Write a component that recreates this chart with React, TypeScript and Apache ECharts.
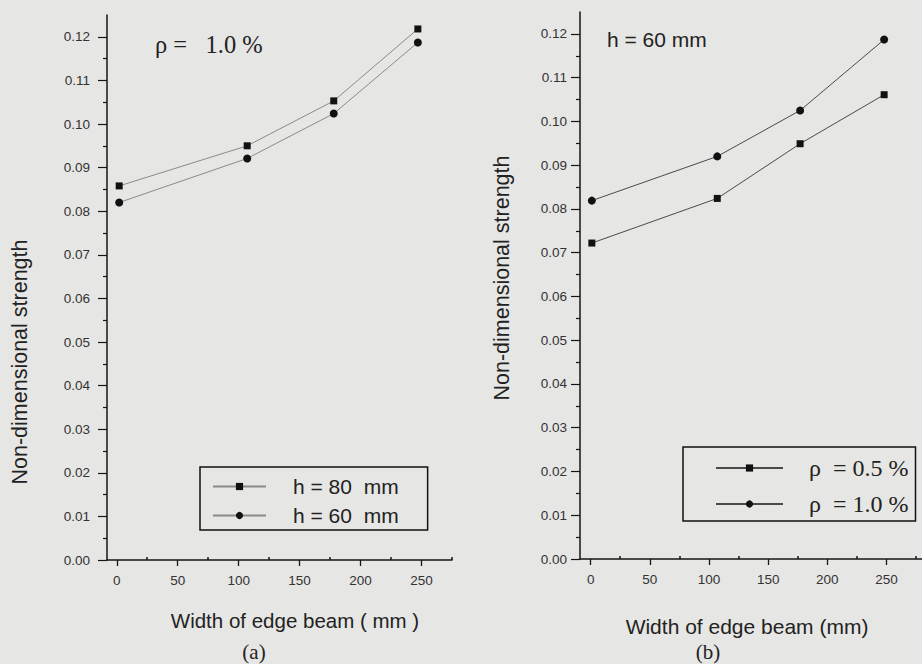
import React, { useEffect, useRef } from "react";
import * as echarts from "echarts";

// ---- data ----
const xLeft = [2, 107, 178, 247];
const h80 = [0.0858, 0.095, 0.1053, 0.1218];
const h60 = [0.082, 0.0921, 0.1024, 0.1187];

const xRight = [1, 107, 177, 248];
const rho05 = [0.0722, 0.0824, 0.0949, 0.1061];
const rho10 = [0.0819, 0.092, 0.1025, 0.1187];

const xTickValues = [0, 50, 100, 150, 200, 250];
const xMinorTickValues = [25, 75, 125, 175, 225, 275];
const yTickValues = [0, 0.01, 0.02, 0.03, 0.04, 0.05, 0.06, 0.07, 0.08, 0.09, 0.1, 0.11, 0.12];

const nameH80 = "h = 80  mm";
const nameH60 = "h = 60  mm";
const nameR05 = "ρ  = 0.5 %";
const nameR10 = "ρ  = 1.0 %";

const SANS = "Arial, 'Liberation Sans', sans-serif";
const SERIF = "'Times New Roman', 'Liberation Serif', serif";
const AXIS = "#161616";

function mainX(gridIndex: number, min: number, max: number) {
  return {
    type: "value",
    gridIndex,
    min,
    max,
    position: "bottom",
    axisLine: { show: true, onZero: false, lineStyle: { color: AXIS, width: 1.5 } },
    axisTick: { show: true, inside: false, length: 6, customValues: xTickValues, lineStyle: { color: AXIS, width: 1.3 } },
    axisLabel: { show: true, customValues: xTickValues, margin: 13, fontSize: 13.5, fontFamily: SANS, color: "#333" },
    splitLine: { show: false },
  };
}
function minorX(gridIndex: number, min: number, max: number) {
  return {
    type: "value",
    gridIndex,
    min,
    max,
    position: "bottom",
    axisLine: { show: false },
    axisTick: { show: true, inside: true, length: 3, customValues: xMinorTickValues, lineStyle: { color: AXIS, width: 1.5 } },
    axisLabel: { show: false },
    splitLine: { show: false },
  };
}
function mainY(gridIndex: number, margin: number) {
  return {
    type: "value",
    gridIndex,
    min: 0,
    max: 0.125,
    interval: 0.01,
    axisLine: { show: true, onZero: false, lineStyle: { color: AXIS, width: 1.5 } },
    axisTick: { show: true, inside: false, length: 9, customValues: yTickValues, lineStyle: { color: AXIS, width: 1.2 } },
    minorTick: { show: true, splitNumber: 2, length: 4, lineStyle: { color: AXIS, width: 1.2 } },
    axisLabel: {
      show: true,
      customValues: yTickValues,
      margin,
      fontSize: 13.5,
      fontFamily: SANS,
      color: "#333",
      formatter: (v: number) => v.toFixed(2),
    },
    splitLine: { show: false },
  };
}

function lineSeries(name: string, xs: number[], ys: number[], symbol: string, size: number, color: string, xAxisIndex: number, yAxisIndex: number) {
  return {
    name,
    type: "line",
    xAxisIndex,
    yAxisIndex,
    data: xs.map((x, i) => [x, ys[i]]),
    symbol,
    symbolSize: size,
    showSymbol: true,
    lineStyle: { color, width: 1 },
    itemStyle: { color: "#111" },
    z: 3,
  };
}

export default function App() {
  const ref = useRef<HTMLDivElement>(null);
  useEffect(() => {
    if (!ref.current) return;
    const chart = echarts.init(ref.current, undefined, { renderer: "svg" });
    chart.setOption({
      animation: false,
      backgroundColor: "#e6e6e4",
      grid: [
        { left: 107, top: 15, width: 345, height: 545 },
        { left: 580, top: 12, width: 345, height: 547 },
      ],
      xAxis: [mainX(0, -8, 275), minorX(0, -8, 275), mainX(1, -9, 280), minorX(1, -9, 280)],
      yAxis: [mainY(0, 17), mainY(1, 13)],
      legend: [
        {
          left: 200,
          top: 467,
          orient: "vertical",
          itemWidth: 53,
          itemHeight: 9,
          itemGap: 8,
          padding: [9, 29, 4, 12],
          borderColor: "#111",
          borderWidth: 1.5,
          textStyle: { fontSize: 21, fontFamily: SANS, color: "#222", lineHeight: 20, padding: [0, 0, 0, 22] },
          data: [nameH80, nameH60],
        },
        {
          left: 683,
          top: 447,
          orient: "vertical",
          itemWidth: 67,
          itemHeight: 9,
          itemGap: 12,
          padding: [9, 7, 5, 32],
          borderColor: "#111",
          borderWidth: 1.5,
          textStyle: { fontSize: 24, fontFamily: SERIF, color: "#222", lineHeight: 22, padding: [0, 0, 0, 21] },
          data: [nameR05, nameR10],
        },
      ],
      series: [
        lineSeries(nameH80, xLeft, h80, "rect", 7, "#8a8a8a", 0, 0),
        lineSeries(nameH60, xLeft, h60, "circle", 8, "#8a8a8a", 0, 0),
        lineSeries(nameR05, xRight, rho05, "rect", 7, "#4a4a4a", 2, 1),
        lineSeries(nameR10, xRight, rho10, "circle", 8, "#4a4a4a", 2, 1),
      ],
      graphic: [
        { type: "text", x: 20, y: 362, rotation: Math.PI / 2, style: { text: "Non-dimensional strength", fontSize: 21.5, fontFamily: SANS, fill: "#222", align: "center", verticalAlign: "middle" } },
        { type: "text", x: 502, y: 278, rotation: Math.PI / 2, style: { text: "Non-dimensional strength", fontSize: 21.5, fontFamily: SANS, fill: "#222", align: "center", verticalAlign: "middle" } },
        { type: "text", x: 295, y: 620, style: { text: "Width of edge beam ( mm )", fontSize: 20.5, fontFamily: SANS, fill: "#222", align: "center", verticalAlign: "middle" } },
        { type: "text", x: 747, y: 626, style: { text: "Width of edge beam (mm)", fontSize: 21, fontFamily: SANS, fill: "#222", align: "center", verticalAlign: "middle" } },
        { type: "text", x: 254, y: 652, style: { text: "(a)", fontSize: 21, fontFamily: SERIF, fill: "#222", align: "center", verticalAlign: "middle" } },
        { type: "text", x: 708, y: 652, style: { text: "(b)", fontSize: 21, fontFamily: SERIF, fill: "#222", align: "center", verticalAlign: "middle" } },
        { type: "text", x: 155, y: 44, style: { text: "ρ =   1.0 %", fontSize: 24.5, fontFamily: SERIF, fill: "#222", align: "left", verticalAlign: "middle" } },
        { type: "text", x: 607, y: 39, style: { text: "h = 60 mm", fontSize: 21, fontFamily: SANS, fill: "#222", align: "left", verticalAlign: "middle" } },
      ],
    });
    return () => chart.dispose();
  }, []);
  return <div ref={ref} style={{ position: "absolute", left: 0, top: 0, width: 922, height: 664 }} />;
}
